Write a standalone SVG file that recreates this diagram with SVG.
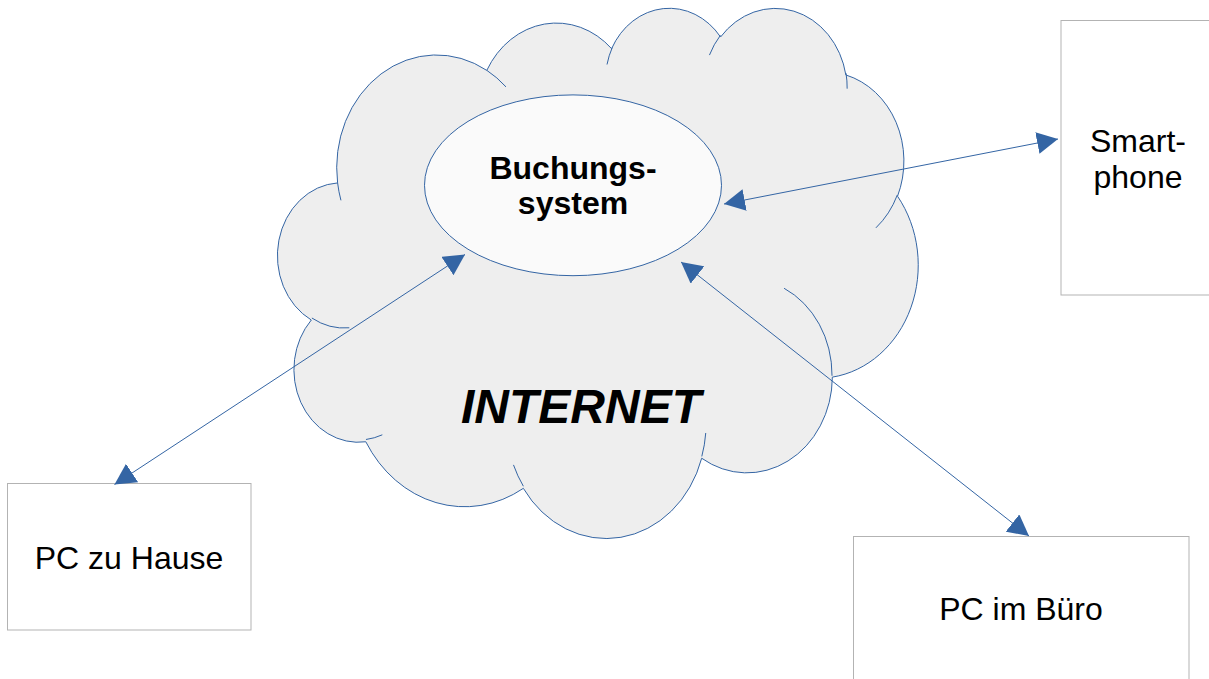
<svg xmlns="http://www.w3.org/2000/svg" width="1209" height="679" viewBox="0 0 1209 679">
  <style>
    .cloud { fill: #eeeeee; stroke: #3465a4; stroke-width: 1; }
    .inner { fill: none; stroke: #3465a4; stroke-width: 1; }
    .ell { fill: #fafafa; stroke: #3465a4; stroke-width: 1; }
    .box { fill: #ffffff; stroke: #b3b3b3; stroke-width: 1; }
    .lbl { font-family: "Liberation Sans", Arial, sans-serif; font-size: 32px; fill: #000000; text-anchor: middle; }
    .bold { font-weight: bold; }
    .big { font-family: "Liberation Sans", Arial, sans-serif; font-size: 48px; font-weight: bold; font-style: italic; fill: #000000; text-anchor: middle; }
    .con { fill: none; stroke: #3465a4; stroke-width: 1; }
  </style>
  <defs>
    <marker id="ah" viewBox="0 0 21 22" refX="21" refY="11" markerWidth="21" markerHeight="22" markerUnits="userSpaceOnUse" orient="auto-start-reverse">
      <path d="M0,0 L21,11 L0,22 Z" fill="#3465a4"/>
    </marker>
  </defs>
  <rect width="1209" height="679" fill="#ffffff"/>

  <g id="internet">
    <g transform="translate(280,6.6) scale(0.014769,0.01227)">
      <path class="cloud" vector-effect="non-scaling-stroke" d="M3900 14370 A6753 9190 0 0 1 14002 5198 A5333 7267 0 0 1 22453 3428 A4365 5945 0 0 1 29830 2477 A4857 6595 0 0 1 38315 5572 A5333 7273 0 0 1 41813 15455 A6775 9220 0 0 1 37399 30198 A5785 7867 0 0 1 28552 36809 A6752 9215 0 0 1 16477 39261 A7720 10543 0 0 1 5810 35466 A4360 5918 0 0 1 2119 25544 A4345 5945 0 0 1 3900 14370 Z"/>
      <path class="inner" vector-effect="non-scaling-stroke" d="M4693 26177 A4345 5945 0 0 1 2159 25381 M6928 34899 A4360 5918 0 0 1 5821 35280 M16478 39090 A6752 9215 0 0 1 15810 37350 M28827 34751 A6752 9215 0 0 1 28560 36660 M34129 22954 A5785 7867 0 0 1 37377 30087 M41798 15354 A5333 7273 0 0 1 40349 18032 M38324 5426 A4857 6595 0 0 1 38401 6690 M29078 3952 A4857 6595 0 0 1 29820 2340 M22141 4720 A4365 5945 0 0 1 22500 3331 M14000 5192 A6753 9190 0 0 1 15303 6544 M4127 15789 A6753 9190 0 0 1 3900 14371"/>
    </g>
    <text class="big" x="581" y="422.5">INTERNET</text>
  </g>

  <g id="buchungssystem">
    <ellipse class="ell" cx="573" cy="185.3" rx="148.5" ry="90.4"/>
    <text class="lbl bold" x="573" y="179">Buchungs-</text>
    <text class="lbl bold" x="573" y="214">system</text>
  </g>

  <g id="smartphone">
    <rect class="box" x="1061" y="20.5" width="154" height="274.5"/>
    <text class="lbl" x="1138" y="151.7">Smart-</text>
    <text class="lbl" x="1138" y="188.3">phone</text>
  </g>

  <g id="pc-zu-hause">
    <rect class="box" x="7.5" y="483.5" width="243.5" height="146.5"/>
    <text class="lbl" x="129" y="569">PC zu Hause</text>
  </g>

  <g id="pc-im-buero">
    <rect class="box" x="853.5" y="536.5" width="335.5" height="150"/>
    <text class="lbl" x="1021" y="620">PC im Büro</text>
  </g>

  <g id="connectors">
    <line class="con" x1="114.5" y1="484.5" x2="465" y2="254.5" marker-start="url(#ah)" marker-end="url(#ah)"/>
    <line class="con" x1="1029" y1="536" x2="681" y2="262" marker-start="url(#ah)" marker-end="url(#ah)"/>
    <line class="con" x1="1058" y1="139" x2="724" y2="204" marker-start="url(#ah)" marker-end="url(#ah)"/>
  </g>
</svg>
